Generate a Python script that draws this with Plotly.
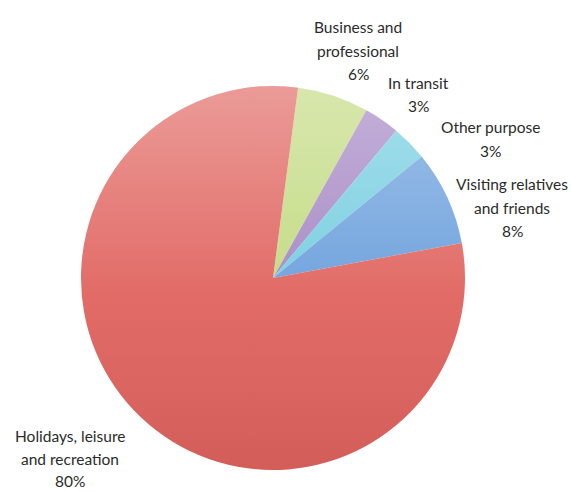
import urllib.parse
import plotly.graph_objects as go

# Purpose of visit shares (%)
labels = ["Business and professional", "In transit", "Other purpose",
          "Visiting relatives and friends", "Holidays, leisure and recreation"]
values = [6, 3, 3, 8, 80]
label_lines = [["Business and", "professional"], ["In transit"], ["Other purpose"],
               ["Visiting relatives", "and friends"], ["Holidays, leisure", "and recreation"]]
colors = ["#c2da80", "#a486c4", "#74cde0", "#6a9fdc", "#e0635e"]

W, H = 571, 492
cx, cy, r = 273, 278, 192
line_gap = 23.5

fig = go.Figure(go.Pie(
    labels=labels, values=values, sort=False, direction="clockwise",
    rotation=7.5, textinfo="none", hoverinfo="label+percent",
    marker=dict(colors=colors, line=dict(width=0)),
    domain=dict(x=[(cx - r) / W, (cx + r) / W], y=[1 - (cy + r) / H, 1 - (cy - r) / H]),
    showlegend=False,
))

# Soft vertical shading over the pie
svg = (
    "<svg xmlns='http://www.w3.org/2000/svg' width='100' height='100'>"
    "<defs><linearGradient id='g' x1='0' y1='0' x2='0' y2='1'>"
    "<stop offset='0' stop-color='white' stop-opacity='0.36'/>"
    "<stop offset='0.55' stop-color='white' stop-opacity='0.05'/>"
    "<stop offset='1' stop-color='black' stop-opacity='0.06'/>"
    "</linearGradient></defs><circle cx='50' cy='50' r='50' fill='url(#g)'/></svg>"
)
fig.add_layout_image(dict(
    source="data:image/svg+xml;charset=utf-8," + urllib.parse.quote(svg),
    xref="paper", yref="paper", x=(cx - r) / W, y=1 - (cy - r) / H,
    sizex=2 * r / W, sizey=2 * r / H, sizing="stretch", layer="above",
    xanchor="left", yanchor="top",
))

# Outside labels: (centre x, first-line centre y, line gap) in pixels
label_pos = [(358, 27, 23.5), (418, 83, 23.5), (490, 127, 23.5),
             (512, 184, 23.5), (70, 436, 22.5)]
for lines, v, (px, py, gap) in zip(label_lines, values, label_pos):
    for i, line in enumerate(lines + [f"{v}%"]):
        fig.add_annotation(
            x=px / W, y=1 - (py + i * gap) / H, xref="paper", yref="paper",
            text=line, showarrow=False, xanchor="center", yanchor="middle",
            font=dict(family="Lato", size=15.5, color="#2b2b2b"),
        )

fig.update_layout(width=W, height=H, margin=dict(l=0, r=0, t=0, b=0),
                  paper_bgcolor="white", plot_bgcolor="white")
fig.write_html("out.html")
